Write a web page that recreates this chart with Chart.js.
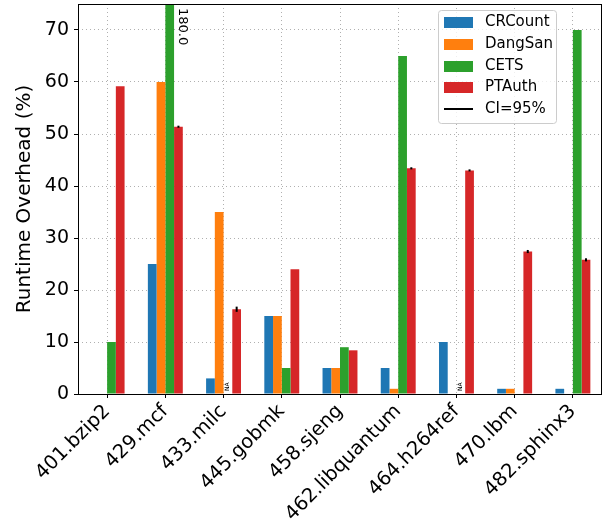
<!DOCTYPE html>
<html>
<head>
<meta charset="utf-8">
<script src="https://cdn.jsdelivr.net/npm/chart.js@4"></script>
<style>
  html, body { margin: 0; padding: 0; background: #fff; }
  #wrap { width: 605px; height: 529px; }
</style>
</head>
<body>
<div id="wrap"><canvas id="chart" width="605" height="529"></canvas></div>
<script>
// benchmarks and overhead (%) per scheme, null = NA
const benchmarks = ['401.bzip2', '429.mcf', '433.milc', '445.gobmk', '458.sjeng', '462.libquantum', '464.h264ref', '470.lbm', '482.sphinx3'];
const crcount = [0, 25, 3, 15, 5, 5, 10, 1, 1];
const dangsan = [0, 60, 35, 15, 5, 1, 0, 1, 0];
const cets = [10, 180, null, 5, 9, 65, null, 0, 70];
const ptauth = [59.2, 51.4, 16.3, 24, 8.4, 43.4, 43, 27.4, 25.8];
const ptauthErr = [0, 0.2, 0.5, 0, 0, 0.2, 0.2, 0.3, 0.3];
const yTicks = [0, 10, 20, 30, 40, 50, 60, 70];

const colors = ['#1f77b4', '#ff7f0e', '#2ca02c', '#d62728'];
const names = ['CRCount', 'DangSan', 'CETS', 'PTAuth'];
const FONT = 'DejaVu Sans';

// error bars, NA marks, clipped label, frame and legend
const extras = {
    id: 'extras',
    afterDatasetsDraw(chart) {
        const ctx = chart.ctx;
        const area = chart.chartArea;
        const y = chart.scales.y;
        const x = chart.scales.x;

        // error bars on PTAuth
        const ptMeta = chart.getDatasetMeta(3);
        ctx.save();
        ctx.strokeStyle = '#000';
        ctx.lineWidth = 2;
        ptauth.forEach((v, i) => {
            const e = ptauthErr[i];
            if (!e) return;
            const bx = ptMeta.data[i].x;
            ctx.beginPath();
            ctx.moveTo(bx, y.getPixelForValue(v - e));
            ctx.lineTo(bx, y.getPixelForValue(v + e));
            ctx.stroke();
        });
        ctx.restore();

        // NA markers and clipped value for CETS
        const cMeta = chart.getDatasetMeta(2);
        const bw = x.getPixelForValue(1) - x.getPixelForValue(0);
        cets.forEach((v, i) => {
            const bx = x.getPixelForValue(i) + bw * 0.6 / 4 * 0.5;
            if (v === null) {
                ctx.save();
                ctx.translate(bx, area.bottom - 3);
                ctx.rotate(-Math.PI / 2);
                ctx.font = '6px ' + FONT;
                ctx.fillStyle = '#000';
                ctx.textAlign = 'left';
                ctx.textBaseline = 'middle';
                ctx.fillText('NA', 0, 0);
                ctx.restore();
            } else if (v > y.max) {
                const el = cMeta.data[i];
                ctx.save();
                ctx.translate(el.x + el.width / 2 + 2, area.top + 4);
                ctx.rotate(Math.PI / 2);
                ctx.font = '13px ' + FONT;
                ctx.fillStyle = '#000';
                ctx.textAlign = 'left';
                ctx.textBaseline = 'bottom';
                ctx.fillText(v.toFixed(1), 0, 0);
                ctx.restore();
            }
        });

        // frame
        ctx.save();
        ctx.strokeStyle = '#000';
        ctx.lineWidth = 1;
        ctx.strokeRect(area.left + 0.5, area.top + 0.5, area.right - area.left - 1, area.bottom - area.top);
        ctx.restore();

        // legend
        const lx = 438, ly = 10, lw = 118, lh = 113;
        ctx.save();
        ctx.fillStyle = 'rgba(255,255,255,0.8)';
        ctx.strokeStyle = '#cccccc';
        ctx.lineWidth = 1;
        ctx.beginPath();
        ctx.roundRect(lx + 0.5, ly + 0.5, lw, lh, 3);
        ctx.fill();
        ctx.stroke();
        ctx.font = '15px ' + FONT;
        ctx.textBaseline = 'middle';
        ctx.textAlign = 'left';
        const rows = [22, 44, 66, 87, 109];
        names.forEach((n, k) => {
            ctx.fillStyle = colors[k];
            ctx.fillRect(444, rows[k] - 5, 29, 11);
            ctx.fillStyle = '#000';
            ctx.fillText(n, 485, rows[k]);
        });
        ctx.strokeStyle = '#000';
        ctx.lineWidth = 2;
        ctx.beginPath();
        ctx.moveTo(444, rows[4]);
        ctx.lineTo(473, rows[4]);
        ctx.stroke();
        ctx.fillText('CI=95%', 485, rows[4]);
        ctx.restore();
    }
};

new Chart(document.getElementById('chart'), {
    type: 'bar',
    data: {
        labels: benchmarks,
        datasets: [crcount, dangsan, cets, ptauth].map((d, k) => ({
            label: names[k],
            data: d,
            backgroundColor: colors[k],
            borderWidth: 0,
            categoryPercentage: 0.6,
            barPercentage: 1.0
        }))
    },
    options: {
        responsive: false,
        animation: false,
        layout: { padding: { left: 0, right: 3, top: 4, bottom: 0 } },
        plugins: { legend: { display: false }, tooltip: { enabled: false } },
        scales: {
            x: {
                grid: { color: '#b0b0b0', tickColor: '#000', tickLength: 4, tickBorderDash: [], offset: false },
                border: { display: false, dash: [1, 3] },
                ticks: { color: '#000', font: { family: FONT, size: 19.5 }, minRotation: 45, maxRotation: 45, padding: 2 },
                afterFit: s => { s.height = 135; }
            },
            y: {
                min: 0,
                max: 75,
                afterBuildTicks: s => { s.ticks = yTicks.map(v => ({ value: v })); },
                grid: { color: '#b0b0b0', tickColor: '#000', tickLength: 4, tickBorderDash: [] },
                border: { display: false, dash: [1, 3] },
                ticks: { color: '#000', font: { family: FONT, size: 19 }, padding: 5 },
                title: { display: true, text: 'Runtime Overhead (%)', color: '#000', font: { family: FONT, size: 20 }, padding: { top: 13, bottom: 0 } },
                afterFit: s => { s.width = 78; s.paddingTop = 0; s.paddingBottom = 0; }
            }
        }
    },
    plugins: [extras]
});
</script>
</body>
</html>
